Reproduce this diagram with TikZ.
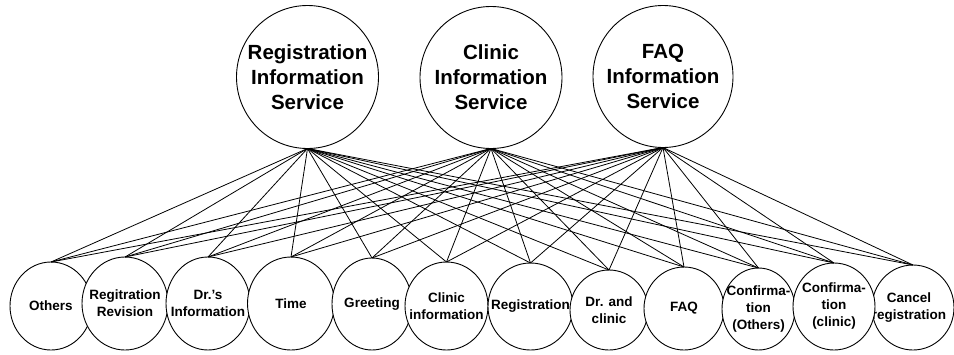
\documentclass[tikz,border=0pt]{standalone}
\usepackage{fontspec}
\setmainfont{Liberation Sans}
\usetikzlibrary{shapes.geometric}
\tikzset{
  bub/.style={draw=black, line width=0.9pt, fill=white, shape=ellipse, inner sep=0pt, outer sep=0pt},
  toplbl/.style={align=center, inner sep=0pt, font=\fontsize{20.5}{25}\selectfont\bfseries},
  botlbl/.style={align=center, inner sep=0pt, font=\fontsize{13.5}{17}\selectfont\bfseries},
  link/.style={draw=black, line width=0.8pt}
}
\begin{document}
\begin{tikzpicture}[x=1pt,y=-1pt]
\useasboundingbox (0,0) rectangle (954,354);
% top services
\node[bub, minimum width=142pt, minimum height=143pt] (s1) at (307.5,77) {};
\node[bub, minimum width=142pt, minimum height=142pt] (s2) at (491,77.5) {};
\node[bub, minimum width=140pt, minimum height=142pt] (s3) at (663,76.5) {};
\node[toplbl] at (s1.center) {Registration\\Information\\Service};
\node[toplbl] at (s2.center) {Clinic\\Information\\Service};
\node[toplbl] at (s3.center) {FAQ\\Information\\Service};
% bottom items (Cancel first so neighbour covers its edge)
\node[bub, minimum width=82pt, minimum height=85pt] (b12) at (913,307.5) {};
\node[botlbl] at (909,307.5) {Cancel\\registration};
\node[bub, minimum width=82pt, minimum height=88pt] (b1) at (51,306) {};
\node[bub, minimum width=86pt, minimum height=93pt] (b2) at (125,303.5) {};
\node[bub, minimum width=84pt, minimum height=93pt] (b3) at (208,303.5) {};
\node[bub, minimum width=87pt, minimum height=93pt] (b4) at (291,303.5) {};
\node[bub, minimum width=80pt, minimum height=92pt] (b5) at (372,304) {};
\node[bub, minimum width=83pt, minimum height=88pt] (b6) at (446.5,306) {};
\node[bub, minimum width=85pt, minimum height=87pt] (b7) at (530.5,306.5) {};
\node[bub, minimum width=78pt, minimum height=80pt] (b8) at (609,310) {};
\node[bub, minimum width=80pt, minimum height=83pt] (b9) at (684,308.5) {};
\node[bub, minimum width=73pt, minimum height=82pt] (b10) at (758.5,309) {};
\node[bub, minimum width=82pt, minimum height=87pt] (b11) at (834,306.5) {};
\node[botlbl] at (b1.center) {Others};
\node[botlbl] at (b2.center) {Regitration\\Revision};
\node[botlbl] at (b3.center) {Dr.'s\\Information};
\node[botlbl] at (b4.center) {Time};
\node[botlbl] at (b5.center) {Greeting};
\node[botlbl] at (b6.center) {Clinic\\information};
\node[botlbl] at (b7.center) {Registration};
\node[botlbl] at (b8.center) {Dr. and\\clinic};
\node[botlbl] at (b9.center) {FAQ};
\node[botlbl] at (b10.center) {Confirma-\\tion\\(Others)};
\node[botlbl] at (b11.center) {Confirma-\\tion\\(clinic)};
% connections
\foreach \s in {s1,s2,s3}{
  \foreach \b in {b1,b2,b3,b4,b5,b6,b7,b8,b9,b10,b11,b12}{
    \draw[link] (\s.south) -- (\b.north);
  }
}
\end{tikzpicture}
\end{document}
